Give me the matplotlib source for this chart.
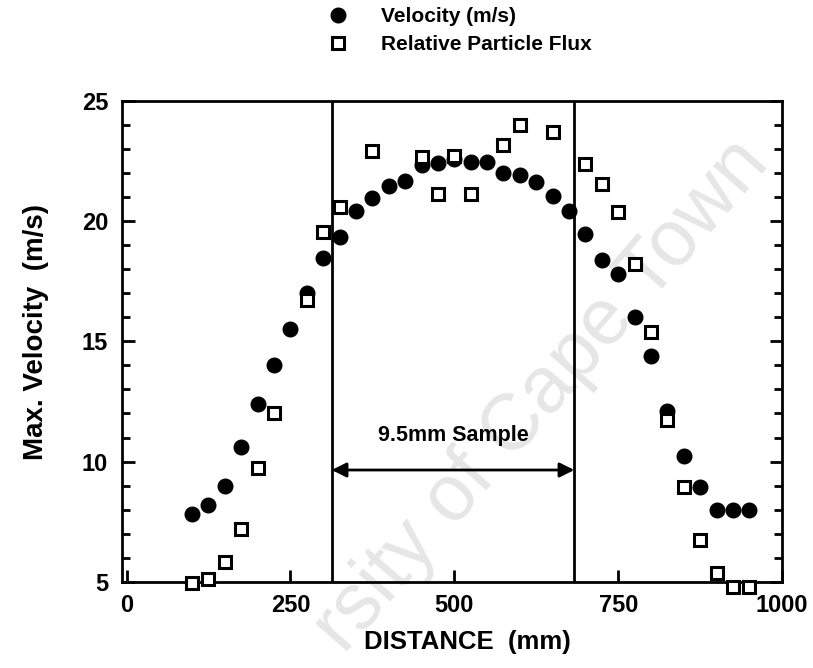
import matplotlib
matplotlib.use("Agg")
import matplotlib.pyplot as plt

# velocity profile, every 25 mm
vel_x = [100, 125, 150, 175, 200, 225, 250, 275, 300, 325, 350, 375, 400, 425,
         450, 475, 500, 525, 550, 575, 600, 625, 650, 675, 700, 725, 750, 775,
         800, 825, 850, 875, 900, 925, 950]
vel_y = [7.8, 8.2, 9.0, 10.6, 12.4, 14.0, 15.5, 17.0, 18.45, 19.35, 20.4, 20.95,
         21.45, 21.65, 22.35, 22.4, 22.6, 22.47, 22.47, 22.0, 21.9, 21.64, 21.05,
         20.4, 19.47, 18.38, 17.8, 16.0, 14.4, 12.1, 10.25, 8.95, 8.0, 8.0, 8.0]

# relative particle flux
flux_x = [100, 125, 150, 175, 200, 225, 275, 300, 325, 375, 450, 475, 500, 525,
          575, 600, 650, 700, 725, 750, 775, 800, 825, 850, 875, 900, 925, 950]
flux_y = [4.95, 5.1, 5.83, 7.2, 9.75, 12.0, 16.7, 19.56, 20.6, 22.93, 22.66, 21.12,
          22.7, 21.12, 23.17, 24.0, 23.72, 22.37, 21.55, 20.37, 18.2, 15.38, 11.73,
          8.95, 6.76, 5.37, 4.8, 4.8]

sample_edges = [313, 683]
arrow_y = 9.65

font = 'Liberation Sans'

fig = plt.figure(figsize=(8.13, 6.68), dpi=100)
ax = fig.add_axes([0.150, 0.129, 0.812, 0.720])
ax.set_facecolor('none')

# watermark (only the part that shows on the page)
ax.text(0.667, 0.407, 'rsity of Cape Town', transform=fig.transFigure,
        rotation=49, fontsize=57, color='#e6e6e6', family=font,
        ha='center', va='center', zorder=0.5, clip_on=False)

ax.plot(vel_x, vel_y, 'o', color='black', markersize=10.5, clip_on=False,
        zorder=3, label='Velocity (m/s)')
ax.plot(flux_x, flux_y, 's', mfc='white', mec='black', markersize=8.5, mew=2.2,
        clip_on=False, zorder=4, label='Relative Particle Flux')

for xe in sample_edges:
    ax.axvline(xe, color='black', lw=2, zorder=2)

ax.annotate('', xy=(sample_edges[1], arrow_y), xytext=(sample_edges[0], arrow_y),
            arrowprops=dict(arrowstyle='<|-|>', color='black', lw=2,
                            mutation_scale=22, shrinkA=0, shrinkB=0))
ax.text(sum(sample_edges) / 2, 11.1, '9.5mm Sample', ha='center', va='center',
        fontsize=15.5, fontweight='bold', family=font)

ax.set_xlim(-7, 996)
ax.set_ylim(5, 25)
ax.set_xticks([0, 250, 500, 750, 1000])
ax.set_yticks([5, 10, 15, 20, 25])
ax.set_yticks(range(5, 26), minor=True)
ax.tick_params(axis='both', which='both', direction='in', width=2, labelsize=17)
ax.tick_params(axis='y', which='both', right=True)
ax.tick_params(axis='y', which='major', length=9, pad=10)
ax.tick_params(axis='y', which='minor', length=6)
ax.tick_params(axis='x', which='major', length=9, pad=9)
for lab in ax.get_xticklabels() + ax.get_yticklabels():
    lab.set_fontweight('bold')
    lab.set_family(font)
for sp in ax.spines.values():
    sp.set_linewidth(2)

ax.set_xlabel('DISTANCE  (mm)', fontsize=18.5, fontweight='bold', family=font)
ax.xaxis.set_label_coords(0.523, -0.10)
ax.set_ylabel('Max. Velocity  (m/s)', fontsize=20, fontweight='bold', family=font)
ax.yaxis.set_label_coords(-0.11, 0.52)

ax.legend(loc='upper left', bbox_to_anchor=(325 / 813, 1 - 7 / 668),
          bbox_transform=fig.transFigure, frameon=False, borderpad=0,
          borderaxespad=0, handlelength=1.2, handletextpad=1.5, labelspacing=0.45,
          prop=dict(family=font, weight='bold', size=15))

fig.savefig('out.png', dpi=100)
